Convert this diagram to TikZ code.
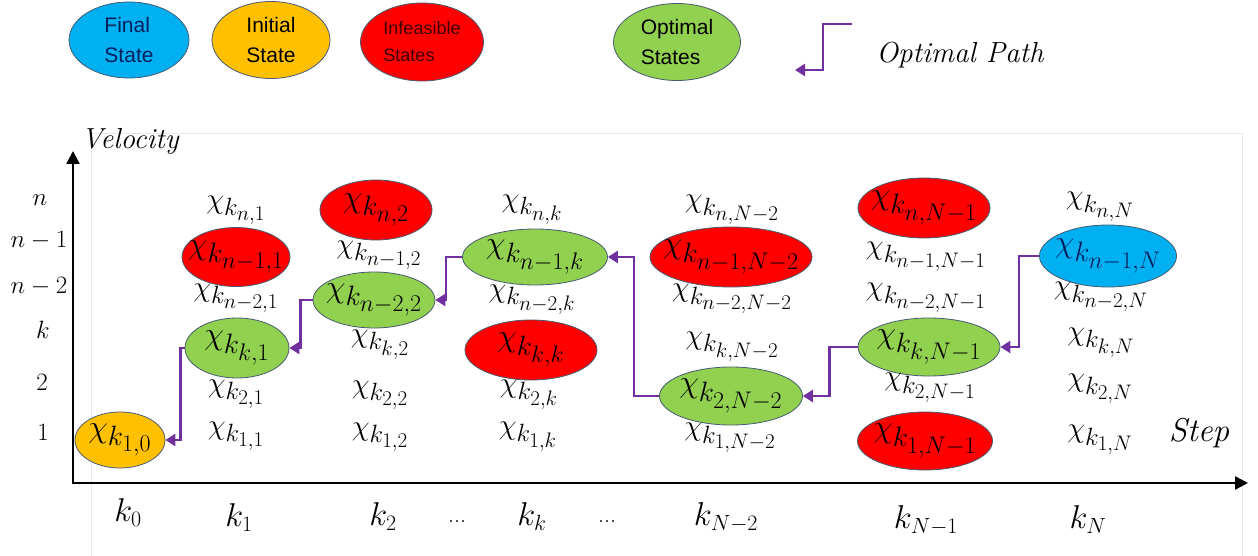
\RequirePackage{fix-cm}
\documentclass[tikz,border=0pt]{standalone}
\usepackage{fontspec}
\newfontfamily\arialfam{Liberation Sans}
\usetikzlibrary{shapes.geometric,arrows.meta,calc}
\DeclareMathSizes{29}{29}{25}{21}
\DeclareMathSizes{32}{32}{28}{24}
\DeclareMathSizes{33}{33}{22}{17}
\DeclareMathSizes{25}{25}{18}{13}
\definecolor{redc}{RGB}{255,0,0}
\definecolor{greenc}{RGB}{146,208,80}
\definecolor{orangec}{RGB}{255,192,0}
\definecolor{bluec}{RGB}{0,176,240}
\definecolor{navyc}{RGB}{0,32,96}
\definecolor{edgec}{RGB}{70,90,115}
\definecolor{purp}{RGB}{112,48,160}
\definecolor{darkred}{RGB}{60,0,0}
\newcommand\chiL[1]{$\chi_{k_{#1}}$}
\tikzset{
  lbl/.style={inner sep=0pt, font=\fontsize{29}{34}\selectfont},
  elbl/.style={inner sep=0pt, font=\fontsize{32}{38}\selectfont},
  st/.style={ellipse, draw=edgec, line width=0.8pt, inner sep=0pt},
  infs/.style={st, fill=redc},
  opts/.style={st, fill=greenc},
  inis/.style={st, fill=orangec},
  fins/.style={st, fill=bluec},
  leg/.style={ellipse, draw=edgec, line width=0.8pt, inner sep=0pt, align=left, font=\arialfam\fontsize{21}{30}\selectfont},
  opt/.style={draw=purp, line width=2.5pt, -{Triangle[length=10pt,width=12pt]}},
  axis/.style={line width=2.5pt, {Triangle[length=13pt,width=13pt]}-{Triangle[length=13pt,width=13pt]}},
  frame/.style={draw=black!9, line width=0.8pt},
  vlab/.style={inner sep=0pt, font=\fontsize{25}{30}\selectfont},
  hlab/.style={inner sep=0pt, font=\fontsize{33}{38}\selectfont},
  dotl/.style={inner sep=0pt, font=\fontsize{24}{28}\selectfont},
  itl/.style={inner sep=0pt, font=\itshape}
}
\begin{document}
\begin{tikzpicture}[x=1pt,y=-1pt]
\useasboundingbox (0,0) rectangle (1258,556);
% faint chart frame
\draw[frame] (91,556) |- (1242,133) -- (1242,556);

% legend
\node[leg, fill=bluec, text=navyc, minimum width=120pt, minimum height=76pt] (lfin) at (129,40) {Final\\State};
\node[leg, fill=orangec, minimum width=118pt, minimum height=77pt] (lini) at (271,40) {Initial\\State};
\node[leg, fill=redc, text=darkred, minimum width=123pt, minimum height=78pt, font=\arialfam\fontsize{18}{27}\selectfont] (linf) at (422,42) {Infeasible\\States};
\node[leg, fill=greenc, minimum width=127pt, minimum height=77pt] (lopt) at (677,42) {Optimal\\States};
\coordinate (lp1) at (852,24);
\coordinate (lp2) at (795,70);
\draw[opt] (lp1) -- ++(-29,0) |- (lp2);
\node[itl, font=\itshape\fontsize{29}{34}\selectfont] (lpath) at (960,55) {Optimal Path};

% axes
\coordinate (yt) at (73,151);
\coordinate (xt) at (1248,483);
\draw[axis] (yt) |- (xt);
\node[itl, font=\itshape\fontsize{29}{34}\selectfont] (vel) at (130,141) {Velocity};
\node[itl, font=\itshape\fontsize{33}{38}\selectfont] (stp) at (1199,433) {Step};

% vertical labels
\node[vlab] (vn) at (40,200) {$n$};
\node[vlab] (vn1) at (39,240) {$n-1$};
\node[vlab] (vn2) at (39,286) {$n-2$};
\node[vlab] (vk) at (43,330) {$k$};
\node[vlab] (v2) at (42,382) {$2$};
\node[vlab] (v1) at (43,432) {$1$};

% horizontal labels
\node[hlab] (h0) at (128,513) {$k_0$};
\node[hlab] (h1) at (239,518) {$k_1$};
\node[hlab] (h2) at (383,517) {$k_2$};
\node[dotl] (hd1) at (457,522) {...};
\node[hlab] (hk) at (532,517) {$k_k$};
\node[dotl] (hd2) at (607,522) {...};
\node[hlab] (hN2) at (726,517) {$k_{N-2}$};
\node[hlab] (hN1) at (926,520) {$k_{N-1}$};
\node[hlab] (hN) at (1088,520) {$k_N$};

% column 0
\node[inis, minimum width=90pt, minimum height=56pt, label={[elbl]center:\chiL{1,0}}] (s10) at (120,440) {};

% column 1
\node[lbl] (a1) at (236,210) {\chiL{n,1}};
\node[infs, minimum width=108pt, minimum height=59pt, label={[elbl]center:\chiL{n-1,1}}] (b1) at (236,257) {};
\node[lbl] (c1) at (236,298) {\chiL{n-2,1}};
\node[opts, minimum width=104pt, minimum height=60pt, label={[elbl]center:\chiL{k,1}}] (d1) at (237,348) {};
\node[lbl] (e1) at (236,394) {\chiL{2,1}};
\node[lbl] (f1) at (236,436) {\chiL{1,1}};

% column 2
\node[infs, minimum width=112pt, minimum height=60pt, label={[elbl]center:\chiL{n,2}}] (a2) at (376,210) {};
\node[lbl] (b2) at (379,255) {\chiL{n-1,2}};
\node[opts, minimum width=122pt, minimum height=56pt, label={[elbl]center:\chiL{n-2,2}}] (c2) at (374,300) {};
\node[lbl] (d2) at (380,345) {\chiL{k,2}};
\node[lbl] (e2) at (380,395) {\chiL{2,2}};
\node[lbl] (f2) at (380,437) {\chiL{1,2}};

% column k
\node[lbl] (ak) at (532,210) {\chiL{n,k}};
\node[opts, minimum width=145pt, minimum height=56pt, label={[elbl]center:\chiL{n-1,k}}] (bk) at (535,257) {};
\node[lbl] (ck) at (532,300) {\chiL{n-2,k}};
\node[infs, minimum width=132pt, minimum height=60pt, label={[elbl]center:\chiL{k,k}}] (dk) at (531,350) {};
\node[lbl] (ek) at (529,395) {\chiL{2,k}};
\node[lbl] (fk) at (528,437) {\chiL{1,k}};

% column N-2
\node[lbl] (aN2) at (732,210) {\chiL{n,N-2}};
\node[infs, minimum width=162pt, minimum height=60pt, label={[elbl]center:\chiL{n-1,N-2}}] (bN2) at (731,257) {};
\node[lbl] (cN2) at (732,299) {\chiL{n-2,N-2}};
\node[lbl] (dN2) at (732,347) {\chiL{k,N-2}};
\node[opts, minimum width=143pt, minimum height=58pt, label={[elbl]center:\chiL{2,N-2}}] (eN2) at (731,396) {};
\node[lbl] (fN2) at (730,438) {\chiL{1,N-2}};

% column N-1
\node[infs, minimum width=132pt, minimum height=60pt, label={[elbl]center:\chiL{n,N-1}}] (aN1) at (924,208) {};
\node[lbl] (bN1) at (926,257) {\chiL{n-1,N-1}};
\node[lbl] (cN1) at (926,298) {\chiL{n-2,N-1}};
\node[opts, minimum width=142pt, minimum height=58pt, label={[elbl]center:\chiL{k,N-1}}] (dN1) at (929,347) {};
\node[lbl] (eN1) at (930,388) {\chiL{2,N-1}};
\node[infs, minimum width=135pt, minimum height=58pt, label={[elbl]center:\chiL{1,N-1}}] (fN1) at (925,441) {};

% column N
\node[lbl] (aN) at (1100,207) {\chiL{n,N}};
\node[fins, minimum width=137pt, minimum height=62pt, label={[elbl, text=navyc]center:\chiL{n-1,N}}] (bN) at (1108,256) {};
\node[lbl] (cN) at (1101,297) {\chiL{n-2,N}};
\node[lbl] (dN) at (1101,343) {\chiL{k,N}};
\node[lbl] (eN) at (1100,389) {\chiL{2,N}};
\node[lbl] (fN) at (1100,440) {\chiL{1,N}};

% optimal path
\draw[opt] (bN.west) -- ++(-20,0) |- (dN1.east);
\draw[opt] (dN1.west) -- ++(-28,0) |- (eN2.east);
\draw[opt] (eN2.west) -- ++(-25,0) |- (bk.east);
\draw[opt] (bk.west) -- ++(-16,0) |- (c2.east);
\draw[opt] (c2.west) -- ++(-12,0) |- (d1.east);
\draw[opt] (d1.west) -- ++(-4,0) |- (s10.east);
\end{tikzpicture}
\end{document}
